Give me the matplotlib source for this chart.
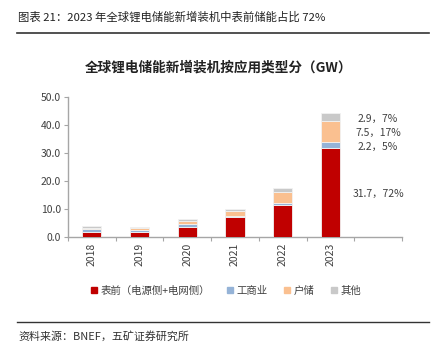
import numpy as np
import matplotlib.pyplot as plt
from matplotlib.lines import Line2D

plt.rcParams['font.family'] = ['Noto Sans CJK SC', 'DejaVu Sans']

years = ['2018', '2019', '2020', '2021', '2022', '2023']
front = [1.7, 1.7, 3.7, 7.3, 11.3, 31.7]
ci = [1.2, 0.8, 0.9, 0.3, 1.0, 2.2]
home = [0.4, 0.6, 1.2, 1.7, 3.9, 7.5]
other = [0.6, 0.5, 0.6, 0.6, 1.3, 2.9]
names = ['表前（电源侧+电网侧）', '工商业', '户储', '其他']
colors = ['#C00000', '#95B3D7', '#FAC090', '#C9C9C9']
notes = ['31.7，72%', '2.2，5%', '7.5，17%', '2.9，7%']
note_y = [15.4, 32.1, 37.1, 42.1]

fig = plt.figure(figsize=(4.39, 3.57), dpi=100)
ax = fig.add_axes([68/439, 1-237/357, (402-68)/439, 140/357])

x = np.arange(len(years))
bottom = np.zeros(len(years))
for vals, c in zip([front, ci, home, other], colors):
    ax.bar(x, vals, 0.4, bottom=bottom, color=c, edgecolor='#F2F2F2', linewidth=0.6, zorder=3)
    bottom += np.array(vals)

for t, yy in zip(notes, note_y):
    ax.text(6, yy, t, ha='center', va='center', fontsize=7.5, color='#404040')

ax.set_xlim(-0.5, 6.5)
ax.set_ylim(0, 50)
ax.set_yticks(np.arange(0, 51, 10))
ax.set_yticklabels(['%.1f' % v for v in np.arange(0, 51, 10)], fontsize=7.5, color='#404040')
ax.set_xticks(np.arange(-0.5, 7, 1))
ax.set_xticklabels([])
ax.set_xticks(x, minor=True)
ax.set_xticklabels(years, minor=True, rotation=90, fontsize=7.5, color='#404040')
ax.tick_params(axis='x', which='major', length=3, color='#A6A6A6', width=0.8)
ax.tick_params(axis='x', which='minor', length=0, pad=4)
ax.tick_params(axis='y', length=3, color='#A6A6A6', width=0.8, pad=2)
for s in ['top', 'right']:
    ax.spines[s].set_visible(False)
for s in ['left', 'bottom']:
    ax.spines[s].set_color('#A6A6A6')
    ax.spines[s].set_linewidth(1.0)

fig.text(18/439, 1-17/357, '图表 21：2023 年全球锂电储能新增装机中表前储能占比 72%',
         fontsize=8.2, color='#222222', va='center')
fig.add_artist(Line2D([17/439, 429/439], [1-33/357, 1-33/357], color='#333333', lw=1.2))
fig.text(219/439, 1-68/357, '全球锂电储能新增装机按应用类型分（GW）',
         fontsize=9.8, fontweight='bold', color='#222222', ha='center', va='center')

handles = [Line2D([], [], marker='s', ls='', color=c, markersize=4) for c in colors]
fig.legend(handles, names, loc='center', bbox_to_anchor=(225/439, 1-291/357), ncol=4,
           frameon=False, fontsize=7.5, handletextpad=0.1, columnspacing=1.4,
           handlelength=1.0, labelcolor='#404040')

fig.add_artist(Line2D([17/439, 429/439], [1-322/357, 1-322/357], color='#333333', lw=1.0))
fig.text(18/439, 1-336/357, '资料来源：BNEF，五矿证券研究所', fontsize=7.9, color='#333333', va='center')

fig.savefig('out.png', dpi=100)
